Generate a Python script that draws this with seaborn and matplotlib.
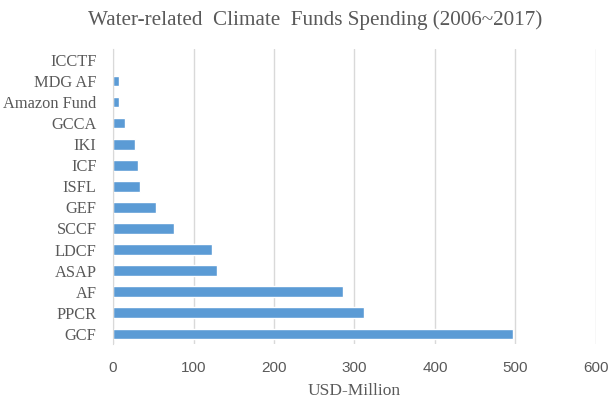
import pandas as pd
import matplotlib.pyplot as plt
import seaborn as sns

# Fund names (top to bottom) and spending in USD million
funds = ['ICCTF', 'MDG AF', 'Amazon Fund', 'GCCA', 'IKI', 'ICF', 'ISFL',
         'GEF', 'SCCF', 'LDCF', 'ASAP', 'AF', 'PPCR', 'GCF']
spending = [0, 7.8, 7.8, 15.3, 27, 31.5, 33, 53.5, 75.5, 122.4, 128.6, 285.5, 312, 497]

df = pd.DataFrame({'Fund': funds, 'Spending': spending})

sns.set_style('white')
fig = plt.figure(figsize=(6.08, 3.99), dpi=100)
ax = fig.add_axes([0.186, 0.137, 0.794, 0.739])

sns.barplot(data=df, x='Spending', y='Fund', orient='h', color='#5B9BD5',
            saturation=1, width=0.5, ax=ax)

ax.set_xlim(0, 600)
ax.set_xticks(range(0, 700, 100))
ax.grid(axis='x', color='#D9D9D9', linewidth=1)
ax.set_axisbelow(True)
for s in ['top', 'right', 'bottom']:
    ax.spines[s].set_visible(False)
ax.spines['left'].set_color('#D9D9D9')

ax.tick_params(axis='both', length=0, colors='#595959')
for lbl in ax.get_xticklabels():
    lbl.set_fontfamily('Liberation Sans')
    lbl.set_fontsize(11)
for lbl in ax.get_yticklabels():
    lbl.set_fontfamily('Liberation Serif')
    lbl.set_fontsize(11.8)
ax.tick_params(axis='x', pad=12)
ax.tick_params(axis='y', pad=12)

ax.set_ylabel('')
ax.set_xlabel('USD-Million', fontfamily='Liberation Serif', fontsize=12.5,
              color='#595959', labelpad=6)
fig.suptitle('Water-related  Climate  Funds Spending (2006~2017)', x=0.518, y=0.975,
             fontfamily='Liberation Serif', fontsize=15.2, color='#595959')

fig.savefig('out.png', dpi=100)
